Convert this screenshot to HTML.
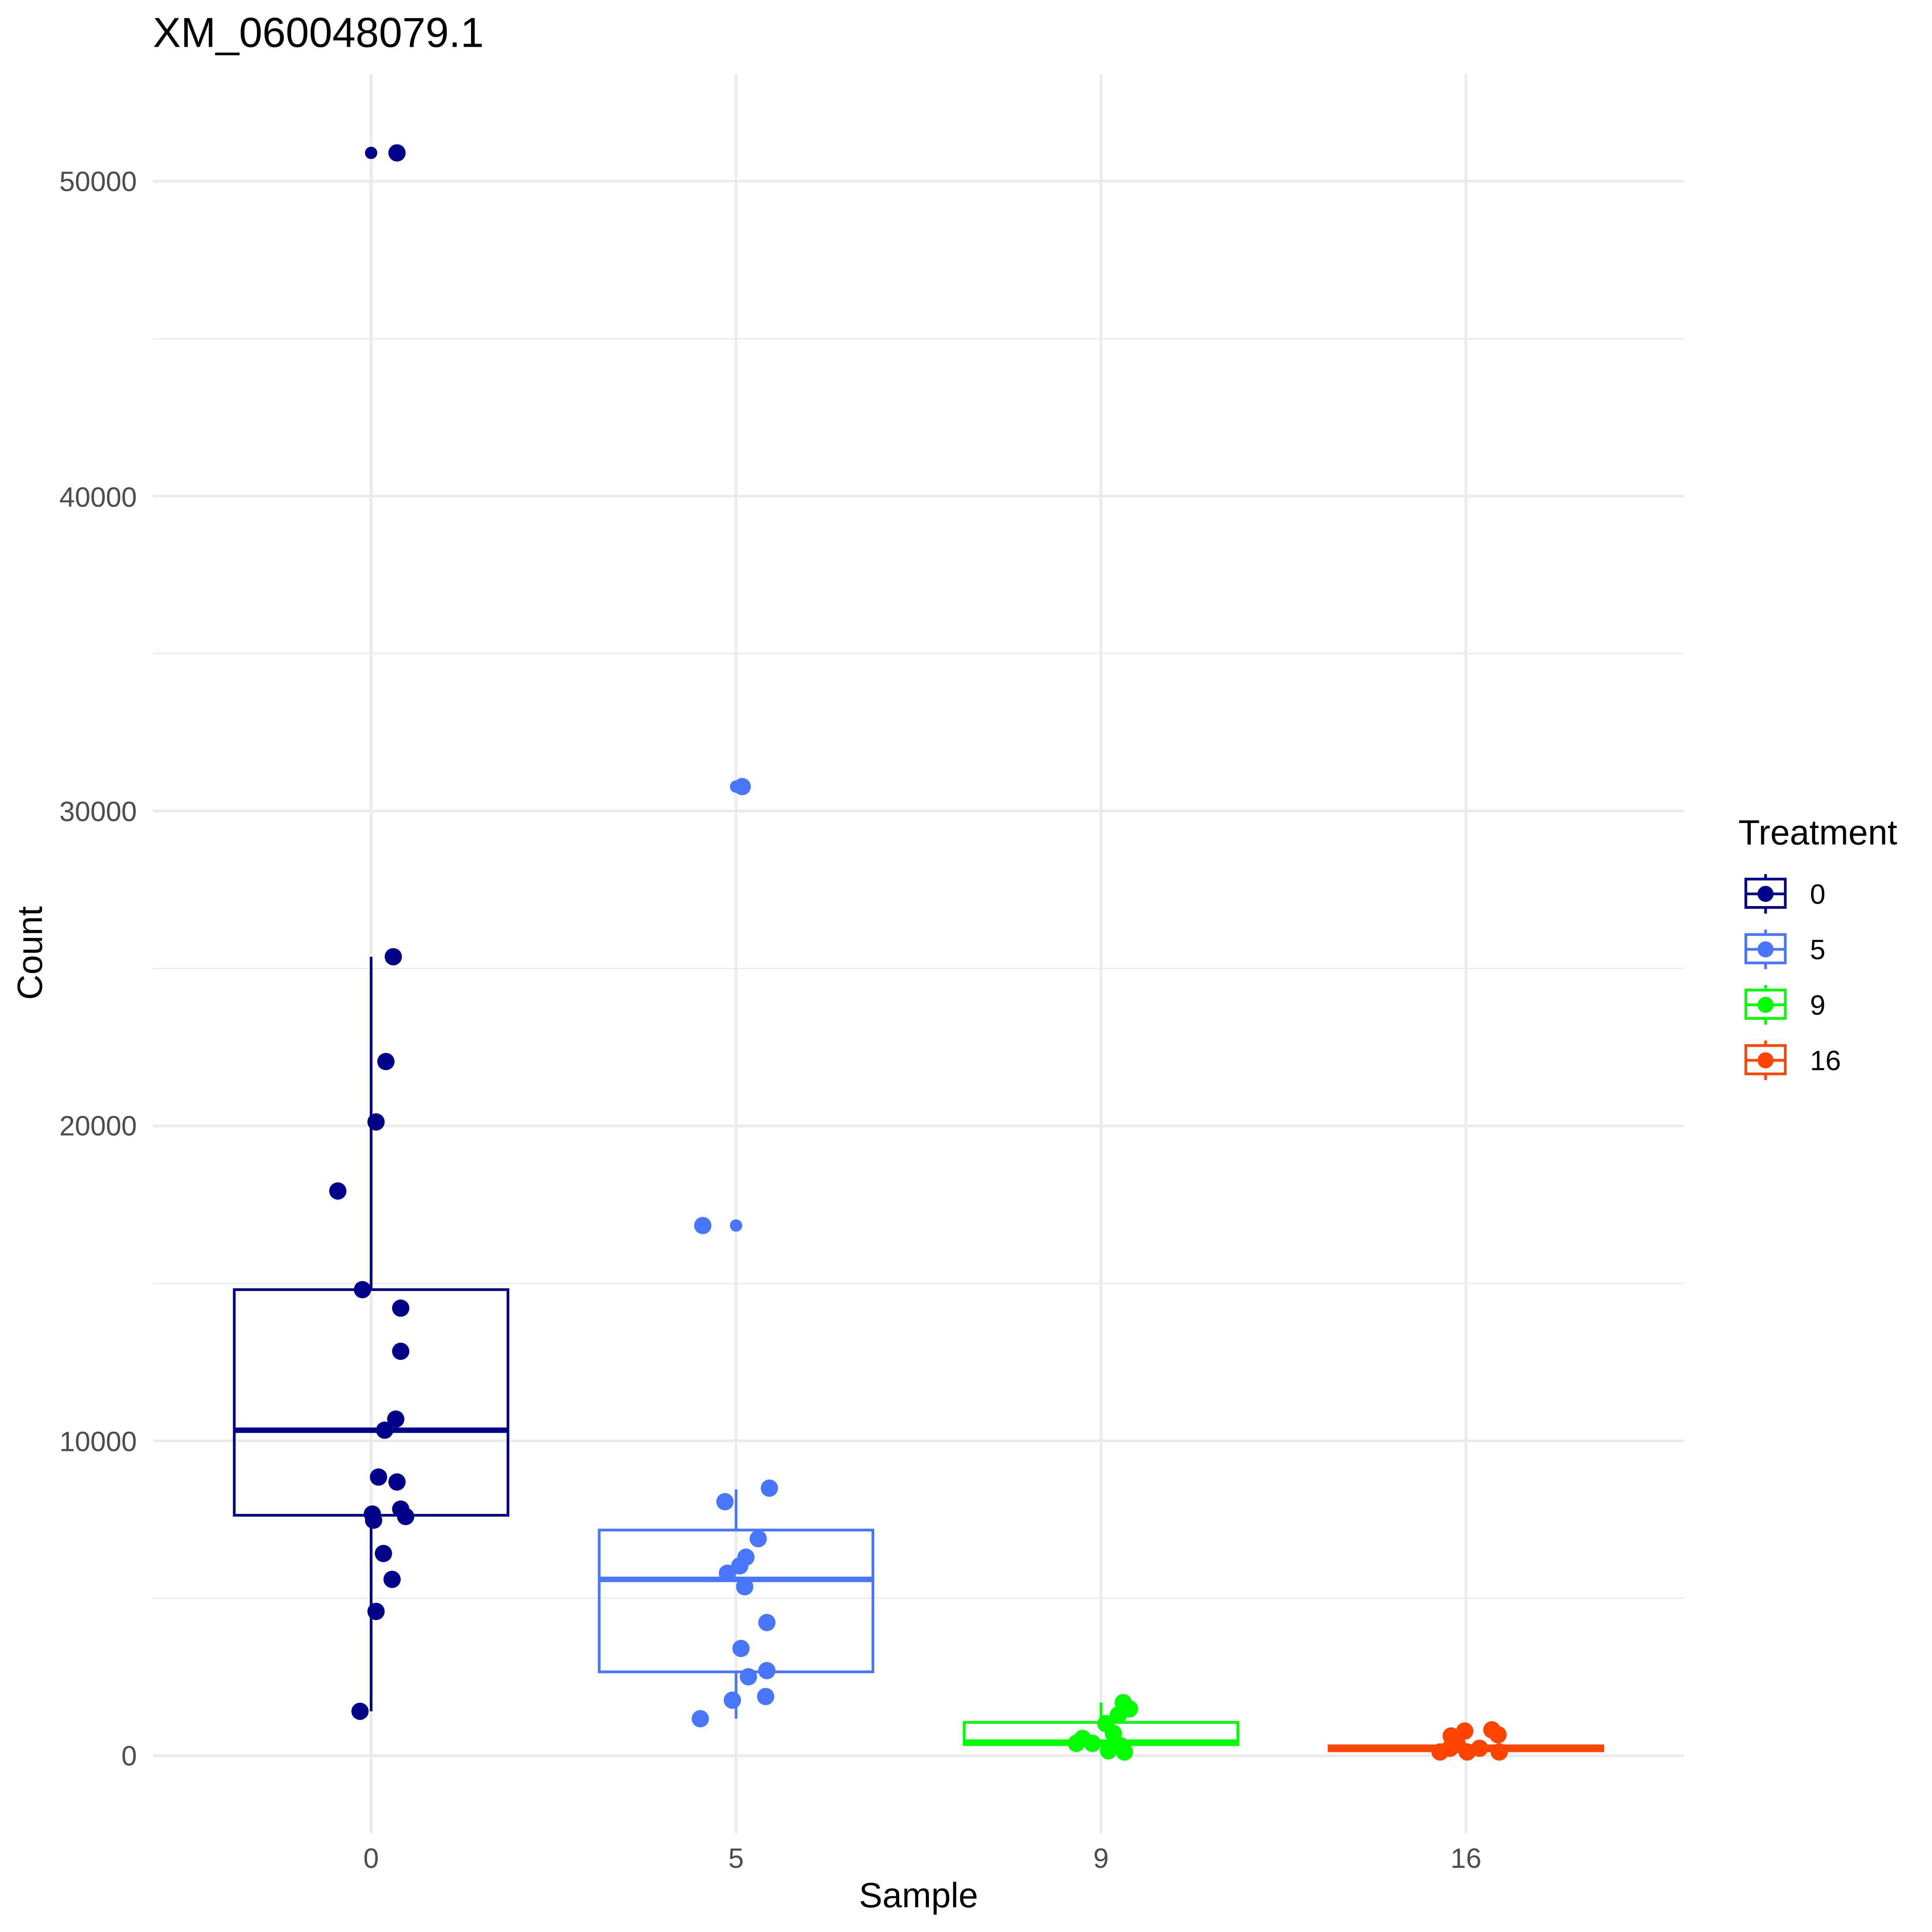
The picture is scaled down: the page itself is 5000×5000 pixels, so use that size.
<!DOCTYPE html>
<html><head><meta charset="utf-8"><style>html,body{margin:0;padding:0;background:#fff}svg{display:block}</style></head>
<body>
<svg xmlns="http://www.w3.org/2000/svg" width="5000" height="5000" viewBox="0 0 1567 1567" font-family="Liberation Sans, sans-serif">
<rect width="1567" height="1567" fill="#fff"/>
<g stroke="#ebebeb" stroke-width="1.1">
<line x1="124" x2="1366" y1="1296.3" y2="1296.3"/><line x1="124" x2="1366" y1="1041" y2="1041"/><line x1="124" x2="1366" y1="785.5" y2="785.5"/><line x1="124" x2="1366" y1="530" y2="530"/><line x1="124" x2="1366" y1="274.8" y2="274.8"/>
</g>
<g stroke="#ebebeb" stroke-width="2.2">
<line x1="124" x2="1366" y1="1424" y2="1424"/><line x1="124" x2="1366" y1="1168.6" y2="1168.6"/><line x1="124" x2="1366" y1="913.2" y2="913.2"/><line x1="124" x2="1366" y1="657.8" y2="657.8"/><line x1="124" x2="1366" y1="402.4" y2="402.4"/><line x1="124" x2="1366" y1="147" y2="147"/>
<line x1="301" x2="301" y1="60" y2="1487"/><line x1="597" x2="597" y1="60" y2="1487"/><line x1="893" x2="893" y1="60" y2="1487"/><line x1="1189" x2="1189" y1="60" y2="1487"/>
</g>
<g font-size="22.6" fill="#4d4d4d" text-anchor="end">
<text x="111" y="1432">0</text><text x="111" y="1177">10000</text><text x="111" y="921">20000</text><text x="111" y="666">30000</text><text x="111" y="411">40000</text><text x="111" y="155">50000</text>
</g>
<g font-size="22.6" fill="#4d4d4d" text-anchor="middle">
<text x="301" y="1515">0</text><text x="597" y="1515">5</text><text x="893" y="1515">9</text><text x="1189" y="1515">16</text>
</g>
<text x="745" y="1547" font-size="28.5" text-anchor="middle">Sample</text>
<text transform="translate(34,773) rotate(-90)" font-size="28.5" text-anchor="middle">Count</text>
<text x="124" y="38" font-size="34">XM_060048079.1</text>
<g fill="none" stroke-width="2.2">
<g stroke="#00008B"><line x1="301" x2="301" y1="776" y2="1046"/><line x1="301" x2="301" y1="1229" y2="1388"/><rect x="190" y="1046" width="222" height="183"/><line x1="190" x2="412" y1="1160" y2="1160" stroke-width="4.4"/></g>
<g stroke="#4876FF"><line x1="597" x2="597" y1="1208" y2="1241"/><line x1="597" x2="597" y1="1356" y2="1394"/><rect x="486" y="1241" width="222" height="115"/><line x1="486" x2="708" y1="1281" y2="1281" stroke-width="4.4"/></g>
<g stroke="#00FF00"><line x1="893" x2="893" y1="1381" y2="1397"/><rect x="782" y="1397" width="222" height="18"/><line x1="782" x2="1004" y1="1413" y2="1413" stroke-width="4.4"/></g>
<g stroke="#FF4500"><rect x="1078" y="1416" width="222" height="4"/><line x1="1078" x2="1300" y1="1418" y2="1418" stroke-width="4.4"/></g>
</g>
<g fill="#00008B">
<circle cx="301" cy="124" r="5"/><circle cx="322" cy="124" r="7"/><circle cx="319" cy="776" r="7"/><circle cx="313" cy="861" r="7"/><circle cx="305" cy="910" r="7"/><circle cx="274" cy="966" r="7"/><circle cx="294" cy="1046" r="7"/><circle cx="325" cy="1061" r="7"/><circle cx="325" cy="1096" r="7"/><circle cx="321" cy="1151" r="7"/><circle cx="312" cy="1160" r="7"/><circle cx="307" cy="1198" r="7"/><circle cx="322" cy="1202" r="7"/><circle cx="325" cy="1224" r="7"/><circle cx="302" cy="1228" r="7"/><circle cx="329" cy="1230" r="7"/><circle cx="303" cy="1233" r="7"/><circle cx="311" cy="1260" r="7"/><circle cx="318" cy="1281" r="7"/><circle cx="305" cy="1307" r="7"/><circle cx="292" cy="1388" r="7"/>
</g>
<g fill="#4876FF">
<circle cx="597" cy="638" r="5"/><circle cx="602" cy="638" r="7"/><circle cx="570" cy="994" r="7"/><circle cx="597" cy="994" r="5"/><circle cx="624" cy="1207" r="7"/><circle cx="588" cy="1218" r="7"/><circle cx="615" cy="1248" r="7"/><circle cx="605" cy="1263" r="7"/><circle cx="600" cy="1270" r="7"/><circle cx="590" cy="1276" r="7"/><circle cx="604" cy="1287" r="7"/><circle cx="622" cy="1316" r="7"/><circle cx="601" cy="1337" r="7"/><circle cx="622" cy="1355" r="7"/><circle cx="607" cy="1360" r="7"/><circle cx="594" cy="1379" r="7"/><circle cx="621" cy="1376" r="7"/><circle cx="568" cy="1394" r="7"/>
</g>
<g fill="#00FF00">
<circle cx="911" cy="1381" r="7"/><circle cx="916" cy="1386" r="7"/><circle cx="907" cy="1391" r="7"/><circle cx="897" cy="1398" r="7"/><circle cx="903" cy="1406" r="7"/><circle cx="878" cy="1410" r="7"/><circle cx="873" cy="1414" r="7"/><circle cx="886" cy="1414" r="7"/><circle cx="909" cy="1416" r="7"/><circle cx="899" cy="1420" r="7"/><circle cx="912" cy="1421" r="7"/>
</g>
<g fill="#FF4500">
<circle cx="1210" cy="1403" r="7"/><circle cx="1188" cy="1404" r="7"/><circle cx="1177" cy="1408" r="7"/><circle cx="1215" cy="1407" r="7"/><circle cx="1182" cy="1415" r="7"/><circle cx="1200" cy="1418" r="7"/><circle cx="1168" cy="1421" r="7"/><circle cx="1190" cy="1421" r="7"/><circle cx="1216" cy="1421" r="7"/><circle cx="1176" cy="1418" r="7"/>
</g>
<text x="1410" y="685" font-size="28.5">Treatment</text>
<g stroke-width="2.2" fill="none">
<g stroke="#00008B"><line x1="1432" x2="1432" y1="709" y2="741"/><rect x="1416" y="713" width="32" height="23" fill="#fff"/><line x1="1416" x2="1448" y1="725" y2="725"/><circle cx="1432" cy="725" r="6.5" fill="#00008B" stroke="none"/></g>
<g stroke="#4876FF"><line x1="1432" x2="1432" y1="754" y2="786"/><rect x="1416" y="758" width="32" height="23" fill="#fff"/><line x1="1416" x2="1448" y1="770" y2="770"/><circle cx="1432" cy="770" r="6.5" fill="#4876FF" stroke="none"/></g>
<g stroke="#00FF00"><line x1="1432" x2="1432" y1="799" y2="831"/><rect x="1416" y="803" width="32" height="23" fill="#fff"/><line x1="1416" x2="1448" y1="815" y2="815"/><circle cx="1432" cy="815" r="6.5" fill="#00FF00" stroke="none"/></g>
<g stroke="#FF4500"><line x1="1432" x2="1432" y1="844" y2="876"/><rect x="1416" y="848" width="32" height="23" fill="#fff"/><line x1="1416" x2="1448" y1="860" y2="860"/><circle cx="1432" cy="860" r="6.5" fill="#FF4500" stroke="none"/></g>
</g>
<g font-size="22.6"><text x="1468" y="733">0</text><text x="1468" y="778">5</text><text x="1468" y="823">9</text><text x="1468" y="868">16</text></g>
</svg>
</body></html>
